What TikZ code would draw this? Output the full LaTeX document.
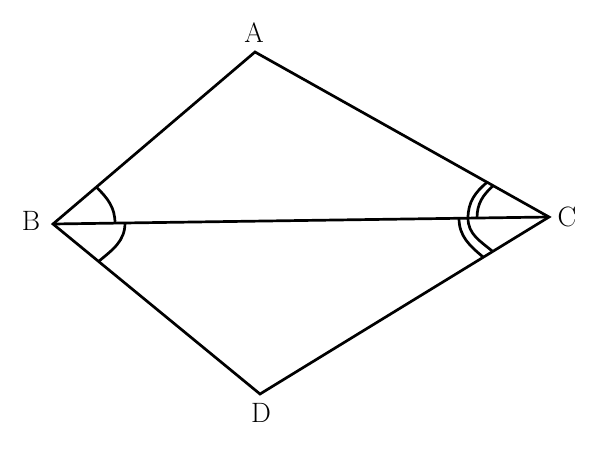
\documentclass[tikz,border=0pt]{standalone}
\usepackage{fontspec}
\usepackage{tikz}
\usetikzlibrary{calc, positioning}

\begin{document}
\begin{tikzpicture}[x=1pt, y=1pt, line width=2.7pt, line join=miter,
    every node/.style={font=\fontsize{28}{32}\selectfont, inner sep=0pt},
    arcmark/.style={draw, line width=2.7pt}]
    \useasboundingbox (0,0) rectangle (597,451);

    %Vertices
    \coordinate (A) at (255,399);
    \coordinate (B) at (53,227);
    \coordinate (C) at (549,234);
    \coordinate (D) at (260,57);

    %Labels
    \node (lA) at (254,418) {A};
    \node (lB) at (31,230) {B};
    \node (lC) at (567,234) {C};
    \node (lD) at (261,38) {D};

    % Sides
    \draw (A) -- (B) -- (D) -- (C) -- cycle;
    \draw (B) -- (C);

    % Angle marks at B
    \draw[arcmark] ($(B)!57pt!(A)$) to[out=-45, in=90] ($(B)!62pt!(C)$);
    \draw[arcmark] ($(B)!72pt!(C)$) to[out=-90, in=40] ($(B)!59pt!(D)$);

    % Angle marks at C
    \draw[arcmark] ($(C)!64pt!(A)$) to[out=222, in=90] ($(C)!72pt!(B)$);
    \draw[arcmark] ($(C)!71pt!(A)$) to[out=220, in=90] ($(C)!81pt!(B)$)
        to[out=-90, in=140] ($(C)!66pt!(D)$);
    \draw[arcmark] ($(C)!90pt!(B)$) to[out=-90, in=140] ($(C)!77pt!(D)$);

\end{tikzpicture}
\end{document}
